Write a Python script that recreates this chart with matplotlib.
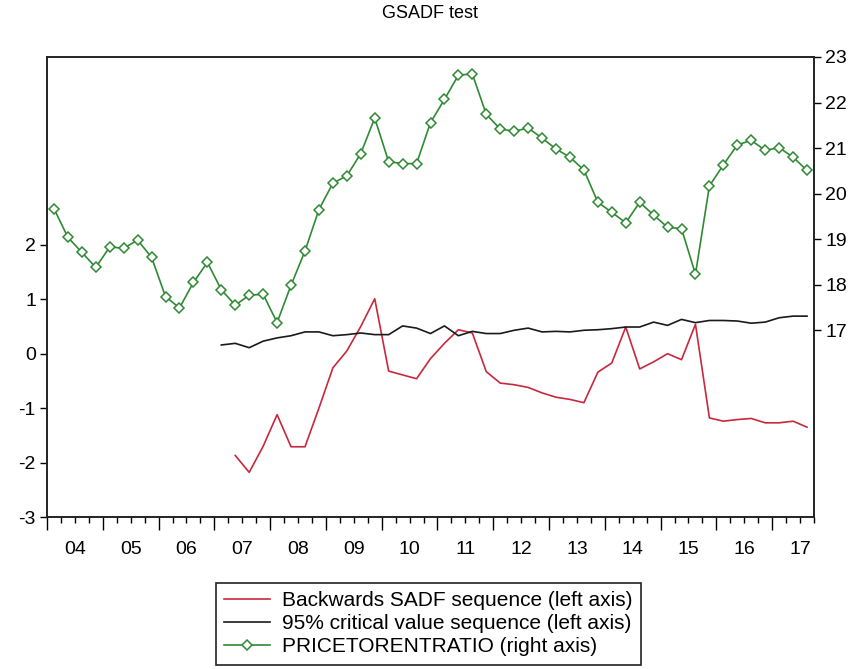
import numpy as np
import matplotlib
matplotlib.use("Agg")
import matplotlib.pyplot as plt
from matplotlib.ticker import FixedLocator, NullFormatter

plt.rcParams['font.family'] = ['Liberation Sans', 'DejaVu Sans']
plt.rcParams['axes.unicode_minus'] = False

# ---- data (quarterly, 2004Q1 .. 2017Q3) ----
year_labels = ["04", "05", "06", "07", "08", "09", "10", "11", "12", "13", "14", "15", "16", "17"]

price_to_rent = [19.67, 19.04, 18.71, 18.38, 18.83, 18.80, 18.98, 18.60, 17.74, 17.49,
                 18.05, 18.49, 17.89, 17.55, 17.77, 17.79, 17.17, 17.99, 18.74, 19.65,
                 20.23, 20.39, 20.88, 21.66, 20.70, 20.66, 20.66, 21.56, 22.07, 22.60,
                 22.63, 21.74, 21.42, 21.37, 21.44, 21.22, 20.98, 20.80, 20.52, 19.81,
                 19.59, 19.36, 19.81, 19.53, 19.26, 19.23, 18.23, 20.17, 20.63, 21.07,
                 21.17, 20.95, 21.01, 20.80, 20.51]

# Backwards SADF sequence, starts 2007Q2
bsadf_start = 13
bsadf = [-1.87, -2.18, -1.70, -1.12, -1.71, -1.71, -1.00, -0.26, 0.05, 0.50,
         1.01, -0.32, -0.39, -0.46, -0.09, 0.19, 0.44, 0.38, -0.33, -0.54,
         -0.57, -0.62, -0.72, -0.80, -0.84, -0.90, -0.34, -0.17, 0.49, -0.28,
         -0.15, 0.00, -0.11, 0.54, -1.18, -1.24, -1.21, -1.19, -1.27, -1.27,
         -1.24, -1.35]

# 95% critical value sequence, starts 2007Q1
cv_start = 12
cv95 = [0.16, 0.19, 0.11, 0.23, 0.29, 0.33, 0.40, 0.40, 0.33, 0.35,
        0.38, 0.35, 0.35, 0.51, 0.47, 0.37, 0.51, 0.33, 0.41, 0.37,
        0.37, 0.43, 0.47, 0.40, 0.41, 0.40, 0.43, 0.44, 0.46, 0.49,
        0.49, 0.58, 0.52, 0.63, 0.57, 0.61, 0.61, 0.60, 0.56, 0.58,
        0.66, 0.69, 0.69]

left_ticks = [-3, -2, -1, 0, 1, 2]
right_ticks = [17, 18, 19, 20, 21, 22, 23]

n = len(price_to_rent)
x_all = np.arange(n)
x_bsadf = np.arange(bsadf_start, bsadf_start + len(bsadf))
x_cv = np.arange(cv_start, cv_start + len(cv95))

red = '#c8283c'
green = '#2f8a34'
black = '#1a1a1a'

fig = plt.figure(figsize=(8.58, 6.69), dpi=100)
ax = fig.add_axes([47/858, 1-517/669, (814-47)/858, (517-57)/669])
ax2 = ax.twinx()

l1, = ax.plot(x_bsadf, bsadf, color=red, lw=1.2)
l2, = ax.plot(x_cv, cv95, color=black, lw=1.2)
l3, = ax2.plot(x_all, price_to_rent, color=green, lw=1.2, marker='D', markersize=5.5,
               markerfacecolor='white', markeredgecolor=green, markeredgewidth=1.1)

ax.set_xlim(-0.5, n - 0.5)
ax.set_ylim(-3, 5.45)
ax2.set_ylim(12.9, 23)

ax.set_yticks(left_ticks)
ax2.set_yticks(right_ticks)

major = np.arange(-0.5, n, 4)
minor = [v for v in np.arange(-0.5, n, 1) if v not in set(major)]
ax.xaxis.set_major_locator(FixedLocator(major))
ax.xaxis.set_major_formatter(NullFormatter())
ax.xaxis.set_minor_locator(FixedLocator(minor))
# labels placed between major ticks
label_pos = np.arange(1.5, n, 4)
for pos, lab in zip(label_pos, year_labels):
    ax.text(pos, -0.052, lab, transform=ax.get_xaxis_transform(), ha='center', va='top',
            fontsize=14)

ax.tick_params(axis='x', which='major', direction='out', length=9, width=1)
ax.tick_params(axis='x', which='minor', direction='out', length=4.5, width=1)
ax.tick_params(axis='y', direction='out', length=5, width=1, labelsize=14, pad=3)
ax2.tick_params(axis='y', direction='out', length=5, width=1, labelsize=14, pad=3)

for a in (ax, ax2):
    for s in a.spines.values():
        s.set_linewidth(1.2)
        s.set_color('#222222')

fig.text(430/858, 1-14/669, "GSADF test", ha='center', va='center', fontsize=13)

leg = fig.legend([l1, l2, l3],
                 ["Backwards SADF sequence (left axis)",
                  "95% critical value sequence (left axis)",
                  "PRICETORENTRATIO (right axis)"],
                 loc='center', bbox_to_anchor=(428.5/858, 1-623.5/669),
                 fontsize=15, frameon=True, fancybox=False, framealpha=1,
                 edgecolor='#222222', handlelength=2.2, labelspacing=0.2,
                 borderpad=0.4, handletextpad=0.6, borderaxespad=0)
leg.get_frame().set_linewidth(1.2)

fig.savefig("out.png", dpi=100)
